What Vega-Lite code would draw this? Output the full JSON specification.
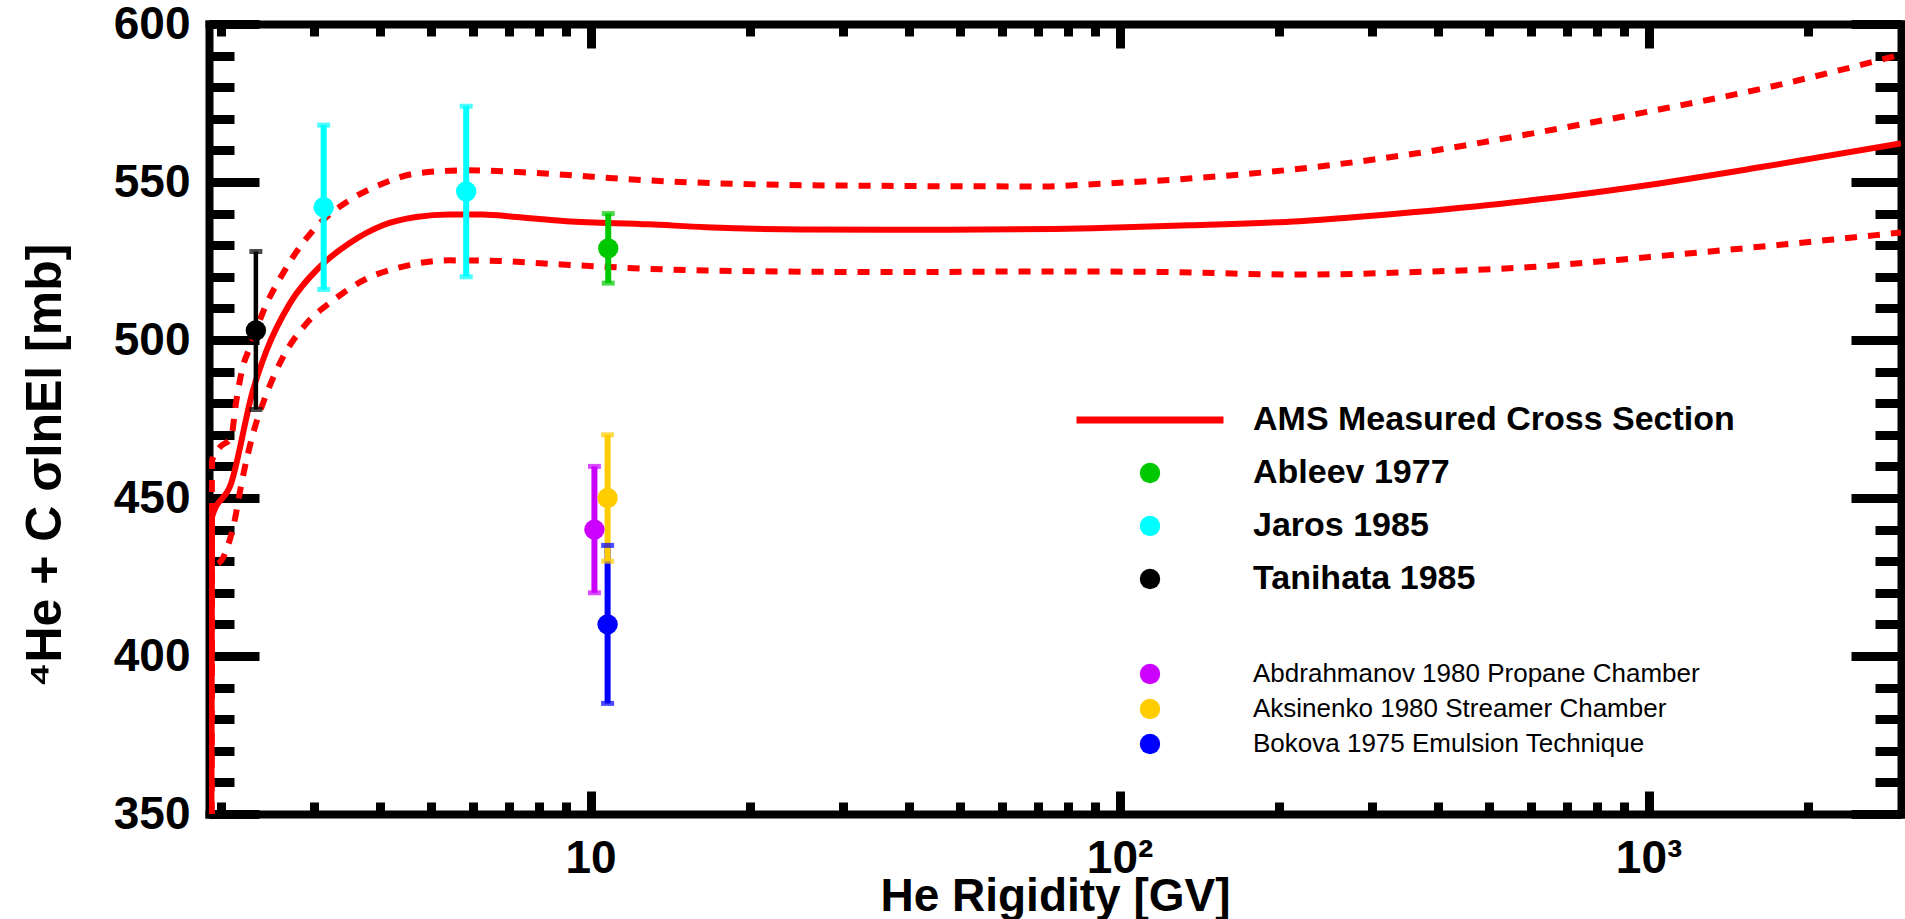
{
  "$schema": "https://vega.github.io/schema/vega-lite/v6.json",
  "width": 1692,
  "height": 790,
  "autosize": {"type": "none"},
  "padding": {"left": 209, "top": 24, "right": 4, "bottom": 105},
  "background": "white",
  "config": {"view": {"stroke": null}, "font": "Liberation Sans", "axis": {"grid": false}},
  "datasets": {
    "ams": [
      {"rigidity": 1.92, "sigma": 350},
      {"rigidity": 1.925, "sigma": 444},
      {"rigidity": 2.09, "sigma": 454.4},
      {"rigidity": 2.3, "sigma": 484},
      {"rigidity": 2.44, "sigma": 496.6},
      {"rigidity": 2.7, "sigma": 511.5},
      {"rigidity": 3.07, "sigma": 523},
      {"rigidity": 3.5, "sigma": 530.6},
      {"rigidity": 4.05, "sigma": 536.3},
      {"rigidity": 4.68, "sigma": 538.9},
      {"rigidity": 5.41, "sigma": 539.7},
      {"rigidity": 6.25, "sigma": 539.7},
      {"rigidity": 7.24, "sigma": 538.9},
      {"rigidity": 9.0, "sigma": 537.6},
      {"rigidity": 12.9, "sigma": 536.6},
      {"rigidity": 16.5, "sigma": 535.7},
      {"rigidity": 25.1, "sigma": 535.0},
      {"rigidity": 47.3, "sigma": 534.9},
      {"rigidity": 88.9, "sigma": 535.4},
      {"rigidity": 135.6, "sigma": 536.3},
      {"rigidity": 218.9, "sigma": 537.6},
      {"rigidity": 362, "sigma": 540.5},
      {"rigidity": 600, "sigma": 544.2},
      {"rigidity": 993, "sigma": 549.0},
      {"rigidity": 1644, "sigma": 554.8},
      {"rigidity": 3000, "sigma": 562.2}
    ],
    "bands": [
      {"band": "upper", "rigidity": 1.92, "sigma": 350},
      {"band": "upper", "rigidity": 1.925, "sigma": 461.8},
      {"band": "upper", "rigidity": 1.99, "sigma": 466},
      {"band": "upper", "rigidity": 2.09, "sigma": 469},
      {"band": "upper", "rigidity": 2.14, "sigma": 480.8},
      {"band": "upper", "rigidity": 2.2, "sigma": 491.3},
      {"band": "upper", "rigidity": 2.27, "sigma": 497.7},
      {"band": "upper", "rigidity": 2.44, "sigma": 511.4},
      {"band": "upper", "rigidity": 2.62, "sigma": 521},
      {"band": "upper", "rigidity": 2.82, "sigma": 529.4},
      {"band": "upper", "rigidity": 3.12, "sigma": 537.9},
      {"band": "upper", "rigidity": 3.5, "sigma": 544.2},
      {"band": "upper", "rigidity": 4.05, "sigma": 549.5},
      {"band": "upper", "rigidity": 4.68, "sigma": 552.7},
      {"band": "upper", "rigidity": 5.82, "sigma": 553.7},
      {"band": "upper", "rigidity": 7.78, "sigma": 552.9},
      {"band": "upper", "rigidity": 12.9, "sigma": 550.5},
      {"band": "upper", "rigidity": 25.1, "sigma": 549.0},
      {"band": "upper", "rigidity": 72.1, "sigma": 548.6},
      {"band": "upper", "rigidity": 88.9, "sigma": 549.3},
      {"band": "upper", "rigidity": 135.6, "sigma": 551.1},
      {"band": "upper", "rigidity": 218.9, "sigma": 554.2},
      {"band": "upper", "rigidity": 362, "sigma": 559.0},
      {"band": "upper", "rigidity": 600, "sigma": 565.3},
      {"band": "upper", "rigidity": 993, "sigma": 572.2},
      {"band": "upper", "rigidity": 1644, "sigma": 579.6},
      {"band": "upper", "rigidity": 3000, "sigma": 590.3},
      {"band": "lower", "rigidity": 1.92, "sigma": 350},
      {"band": "lower", "rigidity": 1.925, "sigma": 427},
      {"band": "lower", "rigidity": 2.02, "sigma": 431.1},
      {"band": "lower", "rigidity": 2.11, "sigma": 440.6},
      {"band": "lower", "rigidity": 2.2, "sigma": 456.5},
      {"band": "lower", "rigidity": 2.3, "sigma": 470.2},
      {"band": "lower", "rigidity": 2.44, "sigma": 482.9},
      {"band": "lower", "rigidity": 2.62, "sigma": 494.5},
      {"band": "lower", "rigidity": 2.9, "sigma": 505.1},
      {"band": "lower", "rigidity": 3.26, "sigma": 512.5},
      {"band": "lower", "rigidity": 3.77, "sigma": 519.4},
      {"band": "lower", "rigidity": 4.36, "sigma": 523},
      {"band": "lower", "rigidity": 5.41, "sigma": 525.2},
      {"band": "lower", "rigidity": 6.73, "sigma": 525},
      {"band": "lower", "rigidity": 8.37, "sigma": 524.1},
      {"band": "lower", "rigidity": 16.5, "sigma": 522},
      {"band": "lower", "rigidity": 38.3, "sigma": 521.5},
      {"band": "lower", "rigidity": 72.1, "sigma": 521.7},
      {"band": "lower", "rigidity": 122, "sigma": 521.5},
      {"band": "lower", "rigidity": 218.9, "sigma": 520.7},
      {"band": "lower", "rigidity": 362, "sigma": 521.5},
      {"band": "lower", "rigidity": 600, "sigma": 523.1},
      {"band": "lower", "rigidity": 993, "sigma": 526.2},
      {"band": "lower", "rigidity": 1644, "sigma": 529.6},
      {"band": "lower", "rigidity": 3000, "sigma": 534}
    ],
    "g1": [
      {"series": "Tanihata 1985", "rigidity": 2.33, "sigma": 503, "lo": 478, "hi": 528},
      {"series": "Jaros 1985", "rigidity": 3.13, "sigma": 542, "lo": 516, "hi": 568},
      {"series": "Jaros 1985", "rigidity": 5.82, "sigma": 547, "lo": 520, "hi": 574},
      {"series": "Ableev 1977", "rigidity": 10.8, "sigma": 529, "lo": 518, "hi": 540}
    ],
    "g2": [
      {"series": "Abdrahmanov 1980 Propane Chamber", "rigidity": 10.17, "sigma": 440, "lo": 420, "hi": 460},
      {"series": "Bokova  1975 Emulsion Technique", "rigidity": 10.77, "sigma": 410, "lo": 385, "hi": 435},
      {"series": "Aksinenko  1980 Streamer Chamber", "rigidity": 10.77, "sigma": 450, "lo": 430, "hi": 470}
    ]
  },
  "resolve": {"axis": {"x": "independent", "y": "independent"}},
  "layer": [
    {
      "data": {"name": "ams"},
      "mark": {"type": "line", "strokeWidth": 6, "interpolate": "monotone", "clip": true},
      "encoding": {
        "x": {
          "field": "rigidity", "type": "quantitative",
          "scale": {"type": "log", "domain": [1.9, 3000], "nice": false},
          "axis": {
            "orient": "bottom", "values": [10, 100, 1000],
            "tickSize": -23, "tickWidth": 9, "tickColor": "black",
            "domain": true, "domainWidth": 8, "domainColor": "black", "domainCap": "square",
            "labelExpr": "datum.value == 10 ? '10' : datum.value == 100 ? '10²' : '10³'",
            "labelFont": "Liberation Sans", "labelFontSize": 46, "labelFontWeight": "bold", "labelColor": "black",
            "labelPadding": 45, "labelOverlap": false, "labelFlush": false, "labelBaseline": "top",
            "title": "He Rigidity [GV]", "titleFont": "Liberation Sans", "titleFontSize": 46, "titleFontWeight": "bold", "titleColor": "black",
            "titleY": 96, "titleBaseline": "alphabetic"
          }
        },
        "y": {
          "field": "sigma", "type": "quantitative",
          "scale": {"domain": [350, 600], "nice": false, "zero": false},
          "axis": {
            "orient": "left", "values": [350, 400, 450, 500, 550, 600],
            "tickSize": -50, "tickWidth": 9, "tickColor": "black",
            "domain": true, "domainWidth": 8, "domainColor": "black", "domainCap": "square",
            "labelFont": "Liberation Sans", "labelFontSize": 46, "labelFontWeight": "bold", "labelColor": "black",
            "labelPadding": 69, "labelOverlap": false, "labelFlush": false,
            "title": "⁴He + C σInEl [mb]", "titleFont": "Liberation Sans", "titleFontSize": 50, "titleFontWeight": "bold", "titleColor": "black",
            "titleX": -149, "titleY": 441, "titleBaseline": "alphabetic", "titleAngle": 270
          }
        },
        "color": {
          "datum": "AMS Measured Cross Section", "type": "nominal", "title": null,
          "scale": {
            "domain": ["AMS Measured Cross Section", "Ableev 1977", "Jaros 1985", "Tanihata 1985"],
            "range": ["#ff0000", "#00c800", "#00ffff", "#000000"]
          },
          "legend": {
            "orient": "none", "legendX": 924, "legendY": 379, "direction": "vertical", "columns": 1,
            "title": null, "padding": 0, "symbolOffset": 0, "labelOffset": 86, "rowPadding": 19,
            "labelFont": "Liberation Sans", "labelFontSize": 34, "labelFontWeight": "bold", "labelColor": "black", "labelLimit": 1000,
            "encode": {
              "symbols": {"update": {
                "shape": {"signal": "datum.value === 'AMS Measured Cross Section' ? 'M-6.125,0H6.125' : 'circle'"},
                "size": {"signal": "datum.value === 'AMS Measured Cross Section' ? 576 : 415"},
                "strokeWidth": {"signal": "datum.value === 'AMS Measured Cross Section' ? 7 : 0"},
                "stroke": {"signal": "datum.value === 'AMS Measured Cross Section' ? '#ff0000' : 'transparent'"},
                "fill": {"signal": "datum.value === 'AMS Measured Cross Section' ? 'transparent' : scale('color', datum.value)"},
                "opacity": {"value": 1}
              }},
              "labels": {"update": {"fontSize": {"value": 34}, "fontWeight": {"value": "bold"}}}
            }
          }
        }
      }
    },
    {
      "data": {"name": "bands"},
      "mark": {"type": "line", "strokeWidth": 6, "strokeDash": [12, 11], "color": "#ff0000", "interpolate": "monotone", "clip": true},
      "encoding": {
        "x": {
          "field": "rigidity", "type": "quantitative",
          "axis": {
            "orient": "bottom", "values": [2, 3, 4, 5, 6, 7, 8, 9, 20, 30, 40, 50, 60, 70, 80, 90, 200, 300, 400, 500, 600, 700, 800, 900, 2000],
            "tickSize": -12, "tickWidth": 9, "tickColor": "black", "domain": false, "labels": false, "title": null
          }
        },
        "y": {
          "field": "sigma", "type": "quantitative",
          "axis": {
            "orient": "left", "values": [360, 370, 380, 390, 410, 420, 430, 440, 460, 470, 480, 490, 510, 520, 530, 540, 560, 570, 580, 590],
            "tickSize": -25, "tickWidth": 9, "tickColor": "black", "domain": false, "labels": false, "title": null
          }
        },
        "detail": {"field": "band"}
      }
    },
    {
      "data": {"name": "g1"},
      "mark": {"type": "rule"},
      "encoding": {
        "x": {
          "field": "rigidity", "type": "quantitative",
          "axis": {
            "orient": "top", "values": [10, 100, 1000],
            "tickSize": -24, "tickWidth": 9, "tickColor": "black",
            "domain": true, "domainWidth": 8, "domainColor": "black", "domainCap": "square",
            "labels": false, "title": null
          }
        },
        "y": {
          "field": "lo", "type": "quantitative",
          "axis": {
            "orient": "right", "values": [350, 400, 450, 500, 550, 600],
            "tickSize": -50, "tickWidth": 9, "tickColor": "black",
            "domain": true, "domainWidth": 8, "domainColor": "black", "domainCap": "square",
            "labels": false, "title": null
          }
        },
        "y2": {"field": "hi"},
        "color": {"field": "series", "type": "nominal", "title": null},
        "strokeWidth": {"condition": {"test": "datum.series === 'Tanihata 1985'", "value": 4.5}, "value": 6}
      }
    },
    {
      "data": {"name": "g1"},
      "mark": {"type": "tick", "orient": "horizontal", "size": 13, "thickness": 5},
      "encoding": {
        "x": {
          "field": "rigidity", "type": "quantitative",
          "axis": {
            "orient": "top", "values": [2, 3, 4, 5, 6, 7, 8, 9, 20, 30, 40, 50, 60, 70, 80, 90, 200, 300, 400, 500, 600, 700, 800, 900, 2000],
            "tickSize": -12, "tickWidth": 9, "tickColor": "black", "domain": false, "labels": false, "title": null
          }
        },
        "y": {
          "field": "lo", "type": "quantitative",
          "axis": {
            "orient": "right", "values": [360, 370, 380, 390, 410, 420, 430, 440, 460, 470, 480, 490, 510, 520, 530, 540, 560, 570, 580, 590],
            "tickSize": -26, "tickWidth": 9, "tickColor": "black", "domain": false, "labels": false, "title": null
          }
        },
        "color": {"field": "series", "type": "nominal", "title": null}
      }
    },
    {
      "data": {"name": "g1"},
      "mark": {"type": "tick", "orient": "horizontal", "size": 13, "thickness": 5},
      "encoding": {
        "x": {"field": "rigidity", "type": "quantitative", "axis": null},
        "y": {"field": "hi", "type": "quantitative", "axis": null},
        "color": {"field": "series", "type": "nominal", "title": null}
      }
    },
    {
      "data": {"name": "g1"},
      "mark": {"type": "point", "filled": true, "size": 415, "opacity": 1},
      "encoding": {
        "x": {"field": "rigidity", "type": "quantitative", "axis": null},
        "y": {"field": "sigma", "type": "quantitative", "axis": null},
        "color": {"field": "series", "type": "nominal", "title": null}
      }
    },
    {
      "data": {"name": "g2"},
      "mark": {"type": "rule", "strokeWidth": 6},
      "encoding": {
        "x": {"field": "rigidity", "type": "quantitative", "axis": null},
        "y": {"field": "lo", "type": "quantitative", "axis": null},
        "y2": {"field": "hi"},
        "stroke": {
          "field": "series", "type": "nominal", "title": null,
          "scale": {
            "domain": ["Abdrahmanov 1980 Propane Chamber", "Aksinenko  1980 Streamer Chamber", "Bokova  1975 Emulsion Technique"],
            "range": ["#cc00ff", "#ffcc00", "#0000ff"]
          },
          "legend": {
            "orient": "none", "legendX": 928, "legendY": 637, "direction": "vertical", "columns": 1,
            "title": null, "padding": 0, "symbolOffset": 0, "labelOffset": 90, "rowPadding": 9,
            "symbolType": "circle", "symbolSize": 415, "symbolStrokeWidth": 0, "symbolOpacity": 1,
            "labelFont": "Liberation Sans", "labelFontSize": 26, "labelFontWeight": "normal", "labelColor": "black", "labelLimit": 1000,
            "encode": {
              "symbols": {"update": {
                "shape": {"value": "circle"},
                "size": {"value": 415},
                "strokeWidth": {"value": 0},
                "stroke": {"value": "transparent"},
                "fill": {"signal": "scale('fill', datum.value)"},
                "opacity": {"value": 1}
              }},
              "labels": {"update": {"fontSize": {"value": 26}, "fontWeight": {"value": "normal"}}}
            }
          }
        }
      }
    },
    {
      "data": {"name": "g2"},
      "mark": {"type": "tick", "orient": "horizontal", "size": 13, "thickness": 5},
      "encoding": {
        "x": {"field": "rigidity", "type": "quantitative", "axis": null},
        "y": {"field": "lo", "type": "quantitative", "axis": null},
        "fill": {"field": "series", "type": "nominal", "title": null}
      }
    },
    {
      "data": {"name": "g2"},
      "mark": {"type": "tick", "orient": "horizontal", "size": 13, "thickness": 5},
      "encoding": {
        "x": {"field": "rigidity", "type": "quantitative", "axis": null},
        "y": {"field": "hi", "type": "quantitative", "axis": null},
        "fill": {"field": "series", "type": "nominal", "title": null}
      }
    },
    {
      "data": {"name": "g2"},
      "mark": {"type": "point", "filled": true, "size": 415, "opacity": 1},
      "encoding": {
        "x": {"field": "rigidity", "type": "quantitative", "axis": null},
        "y": {"field": "sigma", "type": "quantitative", "axis": null},
        "fill": {
          "field": "series", "type": "nominal", "title": null,
          "scale": {
            "domain": ["Abdrahmanov 1980 Propane Chamber", "Aksinenko  1980 Streamer Chamber", "Bokova  1975 Emulsion Technique"],
            "range": ["#cc00ff", "#ffcc00", "#0000ff"]
          },
          "legend": {
            "orient": "none", "legendX": 928, "legendY": 637, "direction": "vertical", "columns": 1,
            "title": null, "padding": 0, "symbolOffset": 0, "labelOffset": 90, "rowPadding": 9,
            "symbolType": "circle", "symbolSize": 415, "symbolStrokeWidth": 0, "symbolOpacity": 1,
            "labelFont": "Liberation Sans", "labelFontSize": 26, "labelFontWeight": "normal", "labelColor": "black", "labelLimit": 1000,
            "encode": {
              "symbols": {"update": {
                "shape": {"value": "circle"},
                "size": {"value": 415},
                "strokeWidth": {"value": 0},
                "stroke": {"value": "transparent"},
                "fill": {"signal": "scale('fill', datum.value)"},
                "opacity": {"value": 1}
              }},
              "labels": {"update": {"fontSize": {"value": 26}, "fontWeight": {"value": "normal"}}}
            }
          }
        }
      }
    }
  ]
}
